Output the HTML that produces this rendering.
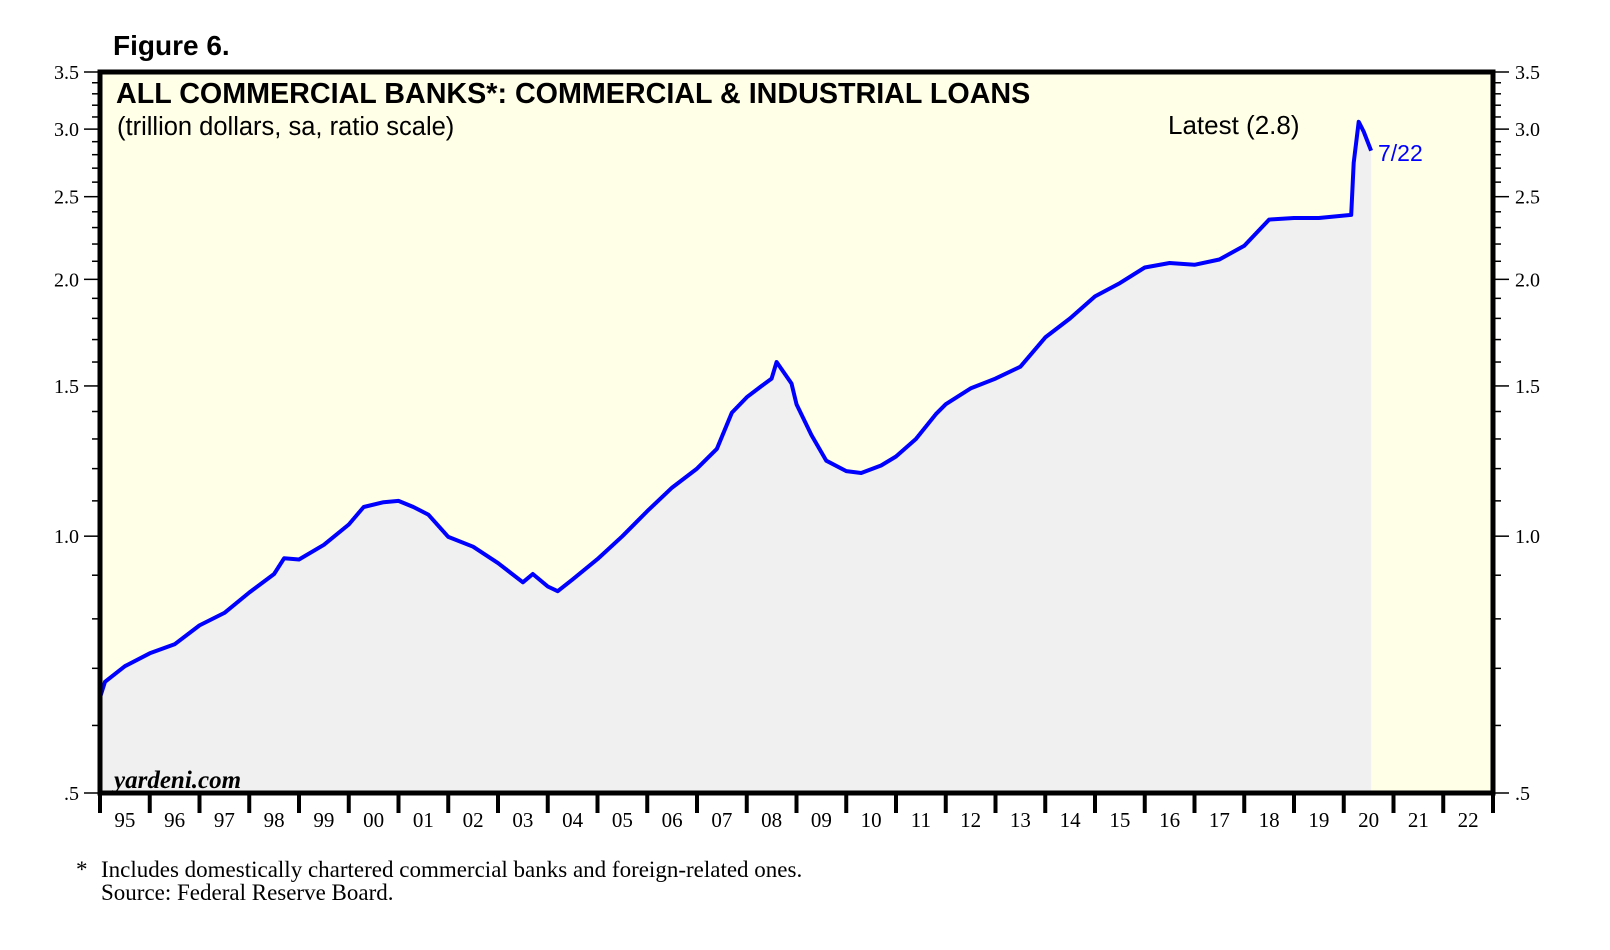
<!DOCTYPE html>
<html><head><meta charset="utf-8"><style>
body{margin:0;background:#fff;}
svg{display:block;}
</style></head><body>
<svg id="chart" width="1610" height="950" xmlns="http://www.w3.org/2000/svg">
<text x="113" y="55" font-family="Liberation Sans, sans-serif" font-weight="bold" font-size="28">Figure 6.</text>
<rect x="100" y="72" width="1393" height="721" fill="#fffee6"/>
<g id="marks"></g>
<g id="axes"></g>
<rect x="100" y="72" width="1393" height="721" fill="none" stroke="#000" stroke-width="5"/>
<text x="116" y="103" font-family="Liberation Sans, sans-serif" font-weight="bold" font-size="28.7">ALL COMMERCIAL BANKS*: COMMERCIAL &amp; INDUSTRIAL LOANS</text>
<text x="117" y="135" font-family="Liberation Sans, sans-serif" font-size="25.5">(trillion dollars, sa, ratio scale)</text>
<text x="1168" y="134" font-family="Liberation Sans, sans-serif" font-size="26">Latest (2.8)</text>
<text x="1378" y="161" font-family="Liberation Sans, sans-serif" font-size="23" fill="#0000ff">7/22</text>
<text x="114" y="788" font-family="Liberation Serif, serif" font-style="italic" font-weight="bold" font-size="25">yardeni.com</text>
<text x="76" y="877" font-family="Liberation Serif, serif" font-size="23">*</text>
<text x="101" y="877" font-family="Liberation Serif, serif" font-size="23">Includes domestically chartered commercial banks and foreign-related ones.</text>
<text x="101" y="900" font-family="Liberation Serif, serif" font-size="23">Source: Federal Reserve Board.</text>
</svg>
<script>
const years = [1995.0,1995.1,1995.5,1996.0,1996.5,1997.0,1997.5,1998.0,1998.5,1998.7,1999.0,1999.5,2000.0,2000.3,2000.7,2001.0,2001.3,2001.6,2002.0,2002.5,2003.0,2003.5,2003.7,2004.0,2004.2,2004.5,2005.0,2005.5,2006.0,2006.5,2007.0,2007.4,2007.7,2008.0,2008.3,2008.5,2008.6,2008.9,2009.0,2009.3,2009.6,2010.0,2010.3,2010.7,2011.0,2011.4,2011.8,2012.0,2012.5,2013.0,2013.5,2014.0,2014.5,2015.0,2015.5,2016.0,2016.5,2017.0,2017.5,2018.0,2018.5,2019.0,2019.5,2020.15,2020.2,2020.3,2020.4,2020.55];
const loans = [0.647,0.675,0.704,0.729,0.747,0.786,0.813,0.859,0.903,0.942,0.939,0.977,1.032,1.082,1.096,1.10,1.082,1.06,0.998,0.972,0.93,0.883,0.903,0.873,0.862,0.89,0.94,1.0,1.07,1.14,1.20,1.266,1.395,1.455,1.5,1.53,1.60,1.51,1.428,1.314,1.226,1.192,1.186,1.21,1.24,1.30,1.39,1.428,1.49,1.53,1.58,1.71,1.80,1.91,1.98,2.065,2.09,2.08,2.11,2.19,2.35,2.36,2.36,2.38,2.74,3.06,2.98,2.83];
const yMajor = [0.5,1.0,1.5,2.0,2.5,3.0,3.5];
const yMajorLabels = [".5","1.0","1.5","2.0","2.5","3.0","3.5"];
const yMinor = [0.6,0.7,0.8,0.9,1.1,1.2,1.3,1.4,1.6,1.7,1.8,1.9,2.1,2.2,2.3,2.4,2.6,2.7,2.8,2.9,3.1,3.2,3.3,3.4];
const xLabels = ["95","96","97","98","99","00","01","02","03","04","05","06","07","08","09","10","11","12","13","14","15","16","17","18","19","20","21","22"];

const NS="http://www.w3.org/2000/svg";
const L=100,R=1493,T=72,B=793;
function xs(yr){return L+(yr-1995)*(R-L)/28;}
function ys(v){return T+Math.log(3.5/v)/Math.log(7)*(B-T);}
function mk(tag,attrs,parent){const e=document.createElementNS(NS,tag);for(const k in attrs)e.setAttribute(k,attrs[k]);parent.appendChild(e);return e;}
const marks=document.getElementById('marks'), axes=document.getElementById('axes');

let pts=years.map((y,i)=>xs(y).toFixed(1)+","+ys(loans[i]).toFixed(1));
let area=mk('polygon',{points:xs(years[0])+","+B+" "+pts.join(" ")+" "+xs(years[years.length-1])+","+B,fill:"#f0f0f0"},marks);


let line=mk('polyline',{points:pts.join(" "),fill:"none",stroke:"#0000ff","stroke-width":4,"stroke-linejoin":"round"},marks);



yMajor.forEach((v,i)=>{
  const y=ys(v);
  mk('line',{x1:84,x2:100,y1:y,y2:y,stroke:"#000","stroke-width":1.5},axes);
  mk('line',{x1:1493,x2:1509,y1:y,y2:y,stroke:"#000","stroke-width":1.5},axes);
  let t=mk('text',{x:79,y:y+7,"text-anchor":"end","font-family":"Liberation Serif, serif","font-size":20},axes);
  t.textContent=yMajorLabels[i];
  
  
  let t2=mk('text',{x:1515,y:y+7,"font-family":"Liberation Serif, serif","font-size":20},axes);
  t2.textContent=yMajorLabels[i];
  
  
});
yMinor.forEach(v=>{
  const y=ys(v);
  mk('line',{x1:92,x2:100,y1:y,y2:y,stroke:"#000","stroke-width":1.5},axes);
  mk('line',{x1:1493,x2:1501,y1:y,y2:y,stroke:"#000","stroke-width":1.5},axes);
});
for(let i=0;i<=28;i++){
  const x=xs(1995+i);
  mk('line',{x1:x,x2:x,y1:B,y2:813,stroke:"#000","stroke-width":4},axes);
}
xLabels.forEach((s,i)=>{
  let t=mk('text',{x:xs(1995+i+0.5),y:827,"text-anchor":"middle","font-family":"Liberation Serif, serif","font-size":21},axes);
  t.textContent=s;
  
  
});
</script>
</body></html>
